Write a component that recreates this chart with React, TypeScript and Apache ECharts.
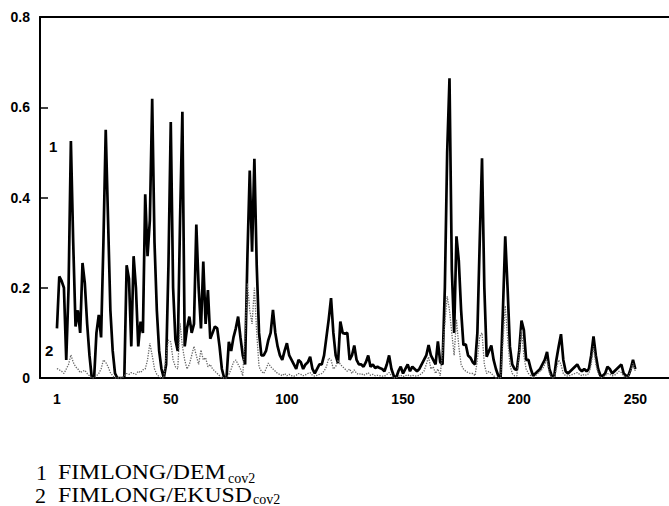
import React, { useEffect, useRef } from "react";
import * as echarts from "echarts";

const yTicks = [0, 0.2, 0.4, 0.6, 0.8];
const xTickLabels = [1, 50, 100, 150, 200, 250];

// FIMLONG/DEM cov2 (curve 1)
const series1 = [
  0.11, 0.225, 0.215, 0.2, 0.04, 0.2, 0.525, 0.3, 0.114, 0.15,
  0.1, 0.255, 0.21, 0.12, 0.05, 0, 0, 0.1, 0.14, 0.09,
  0.3, 0.55, 0.35, 0.15, 0.06, 0.01, 0, 0, 0, 0,
  0.25, 0.22, 0.07, 0.27, 0.2, 0.07, 0.125, 0.1, 0.407, 0.27,
  0.35, 0.619, 0.3, 0.15, 0.06, 0.02, 0, 0.03, 0.25, 0.567,
  0.2, 0.085, 0.06, 0.35, 0.59, 0.07, 0.11, 0.136, 0.1, 0.12,
  0.34, 0.2, 0.11, 0.258, 0.12, 0.195, 0.087, 0.1, 0.114, 0.11,
  0.07, 0.02, 0, 0, 0.08, 0.06, 0.09, 0.11, 0.136, 0.09,
  0.05, 0.03, 0.27, 0.46, 0.28, 0.486, 0.25, 0.1, 0.05, 0.05,
  0.06, 0.084, 0.1, 0.151, 0.1, 0.07, 0.05, 0.04, 0.06, 0.077,
  0.05, 0.04, 0.03, 0.02, 0.04, 0.035, 0.02, 0.03, 0.035, 0.047,
  0.02, 0.01, 0.02, 0.03, 0.03, 0.05, 0.09, 0.13, 0.177, 0.1,
  0.05, 0.033, 0.125, 0.1, 0.098, 0.1, 0.04, 0.05, 0.072, 0.04,
  0.03, 0.03, 0.025, 0.035, 0.05, 0.025, 0.03, 0.022, 0.025, 0.022,
  0.02, 0.015, 0.03, 0.05, 0.02, 0.005, 0, 0.015, 0.025, 0.01,
  0.02, 0.03, 0.015, 0.025, 0.02, 0.015, 0.02, 0.03, 0.04, 0.05,
  0.073, 0.05, 0.04, 0.03, 0.081, 0.035, 0.03, 0.2, 0.5, 0.664,
  0.24, 0.1, 0.314, 0.26, 0.15, 0.073, 0.075, 0.05, 0.045, 0.035,
  0.03, 0.1, 0.3, 0.487, 0.2, 0.047, 0.06, 0.072, 0.04, 0.02,
  0.005, 0, 0.15, 0.314, 0.2, 0.07, 0.03, 0.02, 0.018, 0.06,
  0.127, 0.107, 0.04, 0.04, 0.02, 0.005, 0.01, 0.015, 0.02, 0.03,
  0.04, 0.058, 0.02, 0.005, 0, 0.04, 0.07, 0.097, 0.04, 0.015,
  0.01, 0.015, 0.02, 0.025, 0.03, 0.02, 0.015, 0.02, 0.015, 0.02,
  0.05, 0.092, 0.05, 0.02, 0.005, 0.005, 0.01, 0.025, 0.02, 0.01,
  0.015, 0.02, 0.025, 0.03, 0.01, 0.005, 0.005, 0.02, 0.04, 0.02,
];

// FIMLONG/EKUSD cov2 (curve 2)
const series2 = [
  0.021, 0.018, 0.015, 0.01, 0.02, 0.03, 0.051, 0.035, 0.025, 0.02,
  0.012, 0.015, 0.017, 0.01, 0.005, 0, 0, 0.005, 0.01, 0.02,
  0.04, 0.035, 0.025, 0.012, 0.005, 0, 0, 0, 0, 0.005,
  0.01, 0.008, 0.012, 0.01, 0.008, 0.015, 0.012, 0.018, 0.02, 0.04,
  0.077, 0.05, 0.02, 0.008, 0.003, 0, 0, 0.05, 0.084, 0.08,
  0.04, 0.025, 0.02, 0.121, 0.07, 0.04, 0.02, 0.03, 0.05, 0.07,
  0.05, 0.03, 0.062, 0.04, 0.045, 0.025, 0.03, 0.02, 0.015, 0.01,
  0.005, 0, 0, 0, 0.008, 0.02, 0.035, 0.04, 0.03, 0.02,
  0.005, 0.1, 0.21, 0.15, 0.12, 0.2, 0.1, 0.025, 0.015, 0.01,
  0.02, 0.033, 0.025, 0.02, 0.015, 0.01, 0.008, 0.005, 0.01, 0.005,
  0.008, 0.005, 0.004, 0.006, 0.01, 0.008, 0.005, 0.007, 0.01, 0.012,
  0.006, 0.004, 0.006, 0.008, 0.01, 0.015, 0.025, 0.044, 0.04, 0.02,
  0.025, 0.04, 0.03, 0.025, 0.02, 0.015, 0.02, 0.01, 0.018, 0.01,
  0.008, 0.01, 0.006, 0.008, 0.012, 0.006, 0.008, 0.005, 0.006, 0.005,
  0.004, 0.004, 0.008, 0.012, 0.005, 0, 0, 0.004, 0.006, 0.003,
  0.005, 0.007, 0.004, 0.006, 0.005, 0.004, 0.006, 0.01, 0.015, 0.03,
  0.047, 0.02, 0.025, 0.01, 0.02, 0.005, 0.06, 0.12, 0.181, 0.15,
  0.099, 0.05, 0.13, 0.07, 0.03, 0.02, 0.015, 0.012, 0.01, 0.01,
  0.005, 0.04, 0.092, 0.1, 0.03, 0.01, 0.015, 0.01, 0.005, 0,
  0, 0, 0.08, 0.16, 0.09, 0.03, 0.01, 0.005, 0.005, 0.05,
  0.107, 0.05, 0.02, 0.01, 0.005, 0, 0.005, 0.01, 0.015, 0.02,
  0.03, 0.04, 0.01, 0, 0, 0.02, 0.04, 0.03, 0.01, 0.005,
  0.004, 0.006, 0.008, 0.01, 0.012, 0.008, 0.005, 0.008, 0.006, 0.01,
  0.03, 0.07, 0.03, 0.01, 0, 0.002, 0.005, 0.01, 0.008, 0.005,
  0.006, 0.01, 0.015, 0.012, 0.004, 0.002, 0.003, 0.015, 0.033, 0.015,
];

const xIndex = series1.map((_, i) => i + 1);

export default function App() {
  const ref = useRef<HTMLDivElement>(null);

  useEffect(() => {
    if (!ref.current) return;
    const chart = echarts.init(ref.current, null, { renderer: "svg" });
    const sansFamily = "Liberation Sans";
    const serif = "Liberation Serif";
    const sansBold = {
      fontFamily: sansFamily,
      fontWeight: "bold" as const,
      fontSize: 14,
      color: "#000",
    };
    const txt = (
      x: number,
      y: number,
      text: string,
      size: number,
      family: string,
      weight = "normal",
      scaleX = 1
    ) => ({
      type: "text",
      x,
      y,
      scaleX,
      style: {
        text,
        font: `${weight} ${size}px ${family}`,
        fontSize: size,
        fontFamily: family,
        fontWeight: weight,
        fill: "#000",
        verticalAlign: "middle",
        align: "left",
      },
    });
    chart.setOption({
      animation: false,
      backgroundColor: "#fff",
      grid: { left: 40, right: 0, top: 17, bottom: 128, containLabel: false },
      xAxis: [
        {
          type: "value",
          min: -6.3,
          max: 264.5,
          axisLine: { show: true, onZero: false, lineStyle: { color: "#000", width: 2 } },
          axisTick: { show: false },
          splitLine: { show: false },
          axisLabel: {
            ...sansBold,
            margin: 14,
            customValues: xTickLabels,
            formatter: (v: number) => String(v),
          },
        },
        {
          type: "value",
          position: "top",
          min: -6.3,
          max: 264.5,
          axisLine: { show: true, onZero: false, lineStyle: { color: "#000", width: 2 } },
          axisTick: { show: false },
          splitLine: { show: false },
          axisLabel: { show: false },
        },
      ],
      yAxis: {
        type: "value",
        min: 0,
        max: 0.8,
        interval: 0.2,
        axisLine: { show: true, onZero: false, lineStyle: { color: "#000", width: 2 } },
        axisTick: { show: true, inside: true, length: 8, lineStyle: { color: "#000", width: 1.5 } },
        splitLine: { show: false },
        axisLabel: {
          ...sansBold,
          margin: 10,
          customValues: yTicks,
          formatter: (v: number) => (v === 0 ? "0" : v.toFixed(1)),
        },
      },
      series: [
        {
          name: "1",
          type: "line",
          xAxisIndex: 0,
          data: xIndex.map((x, i) => [x, series1[i]]),
          showSymbol: false,
          lineStyle: { color: "#000", width: 2.7 },
          z: 2,
        },
        {
          name: "2",
          type: "line",
          xAxisIndex: 0,
          data: xIndex.map((x, i) => [x, series2[i]]),
          showSymbol: false,
          lineStyle: { color: "#666", width: 1.3, type: "dotted" },
          z: 3,
        },
      ],
      graphic: [
        txt(49, 146, "1", 15, sansFamily, "bold"),
        txt(45, 350, "2", 15, sansFamily, "bold"),
        txt(36, 472, "1", 22, serif),
        txt(58, 472, "FIMLONG/DEM", 22, serif, "normal", 1.08),
        txt(228, 478, "cov2", 14, serif),
        txt(35, 495, "2", 22, serif),
        txt(58, 495, "FIMLONG/EKUSD", 22, serif, "normal", 1.08),
        txt(253, 499, "cov2", 14, serif),
      ],
    });
    return () => chart.dispose();
  }, []);

  return (
    <div
      ref={ref}
      style={{ position: "absolute", left: 0, top: 0, width: 669, height: 506, background: "#fff" }}
    />
  );
}
